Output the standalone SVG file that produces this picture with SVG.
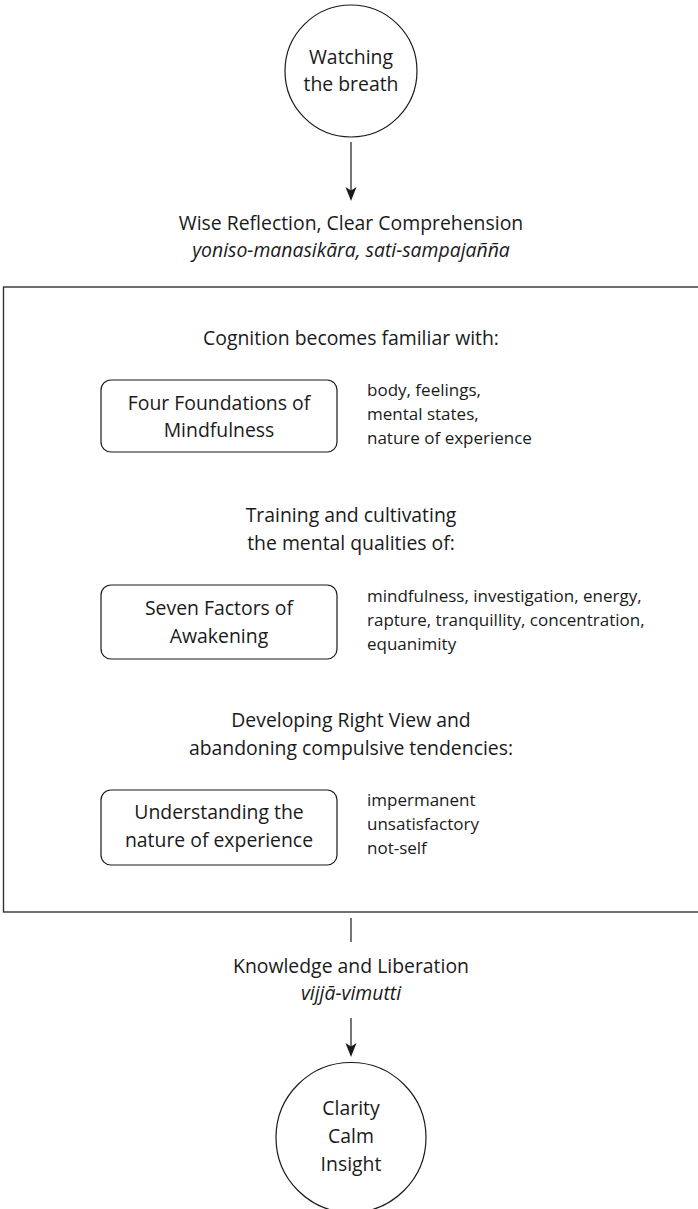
<svg xmlns="http://www.w3.org/2000/svg" width="698" height="1209" viewBox="0 0 698 1209">
<style>
  text { font-family: "Open Sans", "Noto Sans", "DejaVu Sans", sans-serif; fill: #1a1a1a; }
  .main { font-size: 19.4px; text-anchor: middle; }
  .ital { font-size: 19.4px; text-anchor: middle; font-style: italic; }
  .side { font-size: 17px; text-anchor: start; }
  .shape { fill: #ffffff; stroke: #1a1a1a; stroke-width: 1.2; }
  .frame { fill: none; stroke: #333333; stroke-width: 1.4; }
  .conn { fill: none; stroke: #1a1a1a; stroke-width: 1.2; }
</style>
<defs>
  <marker id="arrow" markerUnits="userSpaceOnUse" markerWidth="12" markerHeight="16" refX="5" refY="13" orient="auto-start-reverse" viewBox="0 0 10 14">
    <path d="M0,0 L5,13 L10,0 L5,3.5 Z" fill="#1a1a1a" transform="rotate(0)"/>
  </marker>
</defs>

<g id="frame">
  <rect class="frame" x="3.5" y="287" width="720" height="625"/>
</g>

<g id="connectors">
  <line class="conn" x1="351" y1="142" x2="351" y2="198"/>
  <path d="M345.5,187 L351,201 L356.5,187 L351,190.5 Z" fill="#1a1a1a"/>
  <line class="conn" x1="351" y1="918" x2="351" y2="942"/>
  <line class="conn" x1="351" y1="1018" x2="351" y2="1054"/>
  <path d="M345.5,1043 L351,1057 L356.5,1043 L351,1046.5 Z" fill="#1a1a1a"/>
</g>

<g id="node-watching">
  <circle class="shape" cx="351" cy="71" r="66"/>
  <text class="main" x="351" y="63.5">Watching</text>
  <text class="main" x="351" y="91">the breath</text>
</g>

<g id="label-wise">
  <text class="main" x="351" y="229.5">Wise Reflection, Clear Comprehension</text>
  <text class="ital" x="351" y="257">yoniso-manasikāra, sati-sampajañña</text>
</g>

<g id="label-cognition">
  <text class="main" x="351" y="345">Cognition becomes familiar with:</text>
</g>

<g id="node-four-foundations">
  <rect class="shape" x="101" y="380" width="236" height="72" rx="10" ry="10"/>
  <text class="main" x="219" y="409.5">Four Foundations of</text>
  <text class="main" x="219" y="437">Mindfulness</text>
</g>
<g id="text-four-foundations">
  <text class="side" x="367" y="396">body, feelings,</text>
  <text class="side" x="367" y="420">mental states,</text>
  <text class="side" x="367" y="444">nature of experience</text>
</g>

<g id="label-training">
  <text class="main" x="351" y="522">Training and cultivating</text>
  <text class="main" x="351" y="550">the mental qualities of:</text>
</g>

<g id="node-seven-factors">
  <rect class="shape" x="101" y="585" width="236" height="74" rx="10" ry="10"/>
  <text class="main" x="219" y="614.5">Seven Factors of</text>
  <text class="main" x="219" y="642.5">Awakening</text>
</g>
<g id="text-seven-factors">
  <text class="side" x="367" y="601.5">mindfulness, investigation, energy,</text>
  <text class="side" x="367" y="625.5">rapture, tranquillity, concentration,</text>
  <text class="side" x="367" y="649.5">equanimity</text>
</g>

<g id="label-developing">
  <text class="main" x="351" y="726.5">Developing Right View and</text>
  <text class="main" x="351" y="754.5">abandoning compulsive tendencies:</text>
</g>

<g id="node-understanding">
  <rect class="shape" x="101" y="790" width="236" height="75" rx="10" ry="10"/>
  <text class="main" x="219" y="818.5">Understanding the</text>
  <text class="main" x="219" y="846.5">nature of experience</text>
</g>
<g id="text-understanding">
  <text class="side" x="367" y="806">impermanent</text>
  <text class="side" x="367" y="830">unsatisfactory</text>
  <text class="side" x="367" y="854">not-self</text>
</g>

<g id="label-knowledge">
  <text class="main" x="351" y="973">Knowledge and Liberation</text>
  <text class="ital" x="351" y="1000">vijjā-vimutti</text>
</g>

<g id="node-clarity">
  <circle class="shape" cx="351" cy="1137.5" r="75"/>
  <text class="main" x="351" y="1115">Clarity</text>
  <text class="main" x="351" y="1143">Calm</text>
  <text class="main" x="351" y="1171">Insight</text>
</g>
</svg>
